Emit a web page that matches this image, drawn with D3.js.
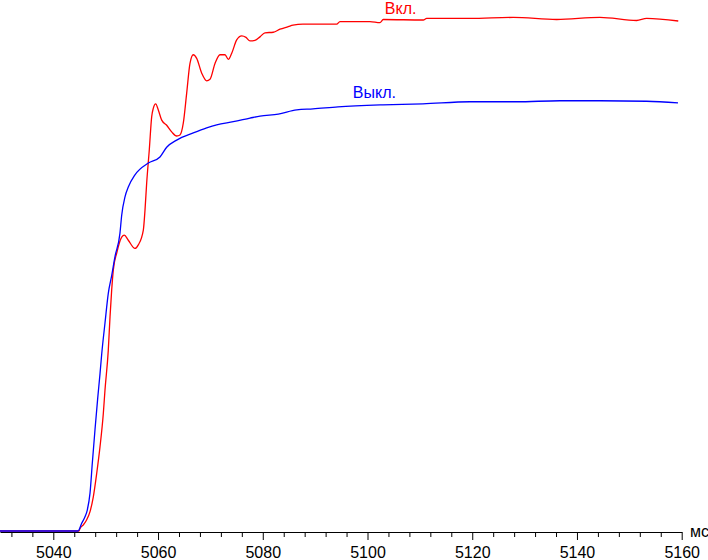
<!DOCTYPE html>
<html>
<head>
<meta charset="utf-8">
<script src="https://cdn.jsdelivr.net/npm/d3@7/dist/d3.min.js"></script>
<style>
html,body{margin:0;padding:0;background:#fff;}
svg{display:block;}
text{font-family:"Liberation Sans",Arial,sans-serif;}
</style>
</head>
<body>
<svg id="chart" width="708" height="560"></svg>
<script>
// time in ms
const redTime = [5029.8,5044.9,5045.10,5045.73,5046.38,5047.01,5047.64,5048.29,5048.92,5049.55,5049.87,5050.50,5050.83,5051.15,5051.46,5052.11,5053.06,5053.56,5054.32,5055.60,5056.23,5057.19,5057.51,5057.83,5058.33,5058.79,5059.09,5059.55,5060.05,5060.70,5061.65,5062.61,5063.56,5064.19,5064.82,5065.47,5066.10,5066.73,5067.38,5068.34,5069.29,5069.92,5070.88,5071.83,5072.79,5073.42,5074.07,5075.02,5075.98,5076.80,5077.56,5078.51,5079.47,5080.42,5082.01,5083.29,5084.87,5085.77,5087.68,5094.11,5094.74,5100.47,5102.38,5103.01,5110.65,5111.30,5119.57,5127.84,5136.12,5144.39,5151.40,5153.31,5159.34];
const redValue = [0,0,0.5,1.2,2.2,3.8,6.7,11.3,16.5,23.0,27.6,35.4,41.9,47.2,51.1,54.4,57.5,57.9,56.9,55.3,56.0,58.9,62.8,68.1,74.6,81.1,82.7,83.6,82.4,80.4,79.4,78.1,77.3,77.5,79.8,85.7,91.5,93.2,92.5,89.6,88.1,88.4,91.5,93.2,93.2,92.3,93.5,96.1,96.9,96.6,95.9,96.0,96.7,97.5,97.6,98.2,98.7,99.0,99.2,99.2,99.7,99.7,99.5,100.1,100.0,100.3,100.3,100.5,100.1,100.5,99.9,100.3,99.8];
const blueTime = [5029.8,5044.72,5045.42,5046.05,5046.49,5047.01,5047.45,5047.96,5048.48,5048.92,5049.24,5049.87,5050.50,5051.15,5051.78,5052.73,5053.06,5053.69,5054.32,5055.60,5058.14,5060.37,5061.65,5063.56,5066.73,5069.29,5071.20,5074.37,5077.56,5079.47,5082.96,5086.48,5089.59,5094.36,5102.96,5110.59,5119.57,5128.48,5136.75,5144.39,5153.31,5159.29];
const blueValue = [0,0,1.5,2.8,4.1,7.4,13.3,19.8,26.0,30.8,34.6,40.7,46.5,50.0,53.7,58.3,61.8,65.4,67.3,69.7,72.0,73.2,75.1,76.5,77.9,78.9,79.5,80.1,80.8,81.2,81.6,82.4,82.6,83.0,83.4,83.6,84.0,84.0,84.2,84.2,84.1,83.8];
const majorTicks = [5040,5060,5080,5100,5120,5140,5160];
const minorTicks = [5032,5036,5044,5048,5052,5056,5064,5068,5072,5076,5084,5088,5092,5096,5104,5108,5112,5116,5124,5128,5132,5136,5144,5148,5152,5156];
const seriesNames = ["Вкл.","Выкл."];
const unitLabel = "мс";

const svg = d3.select("#chart");
const x = d3.scaleLinear().domain([5029.82,5160]).range([0,681.7]);
const y = d3.scaleLinear().domain([0,100]).range([531,20]);

const line = d3.line().x(d=>x(d[0])).y(d=>y(d[1])).curve(d3.curveMonotoneX);

const red = redTime.map((t,i)=>[t,redValue[i]]);
const blue = blueTime.map((t,i)=>[t,blueValue[i]]);

svg.append("path").datum(red).attr("d",line)
  .attr("fill","none").attr("stroke","#ff0000").attr("stroke-width",1.3);
svg.append("path").datum(blue).attr("d",line)
  .attr("fill","none").attr("stroke","#0000ff").attr("stroke-width",1.3);

// axis
const gMinor = svg.append("g").attr("transform","translate(0,532)")
  .call(d3.axisBottom(x).tickValues(minorTicks).tickSize(5).tickSizeOuter(0).tickFormat(""));
gMinor.select(".domain").remove();
gMinor.selectAll("line").attr("stroke","#000");

const gMajor = svg.append("g").attr("transform","translate(0,532)")
  .call(d3.axisBottom(x).tickValues(majorTicks).tickSize(8).tickSizeOuter(0).tickPadding(7).tickFormat(d3.format("d")));
gMajor.select(".domain").attr("stroke","#000");
gMajor.selectAll("line").attr("stroke","#000");
gMajor.selectAll("text").attr("font-size","16px").attr("fill","#000")
  .attr("font-family","'Liberation Sans',Arial,sans-serif");

svg.append("text").attr("x",690).attr("y",537).attr("font-size","16px").attr("fill","#000").text(unitLabel);

svg.append("text").attr("x",x(5103.3)).attr("y",13.5).attr("font-size","16px").attr("fill","#ff0000").text(seriesNames[0]);
svg.append("text").attr("x",x(5097.2)).attr("y",98).attr("font-size","16px").attr("fill","#0000ff").text(seriesNames[1]);
</script>
</body>
</html>
